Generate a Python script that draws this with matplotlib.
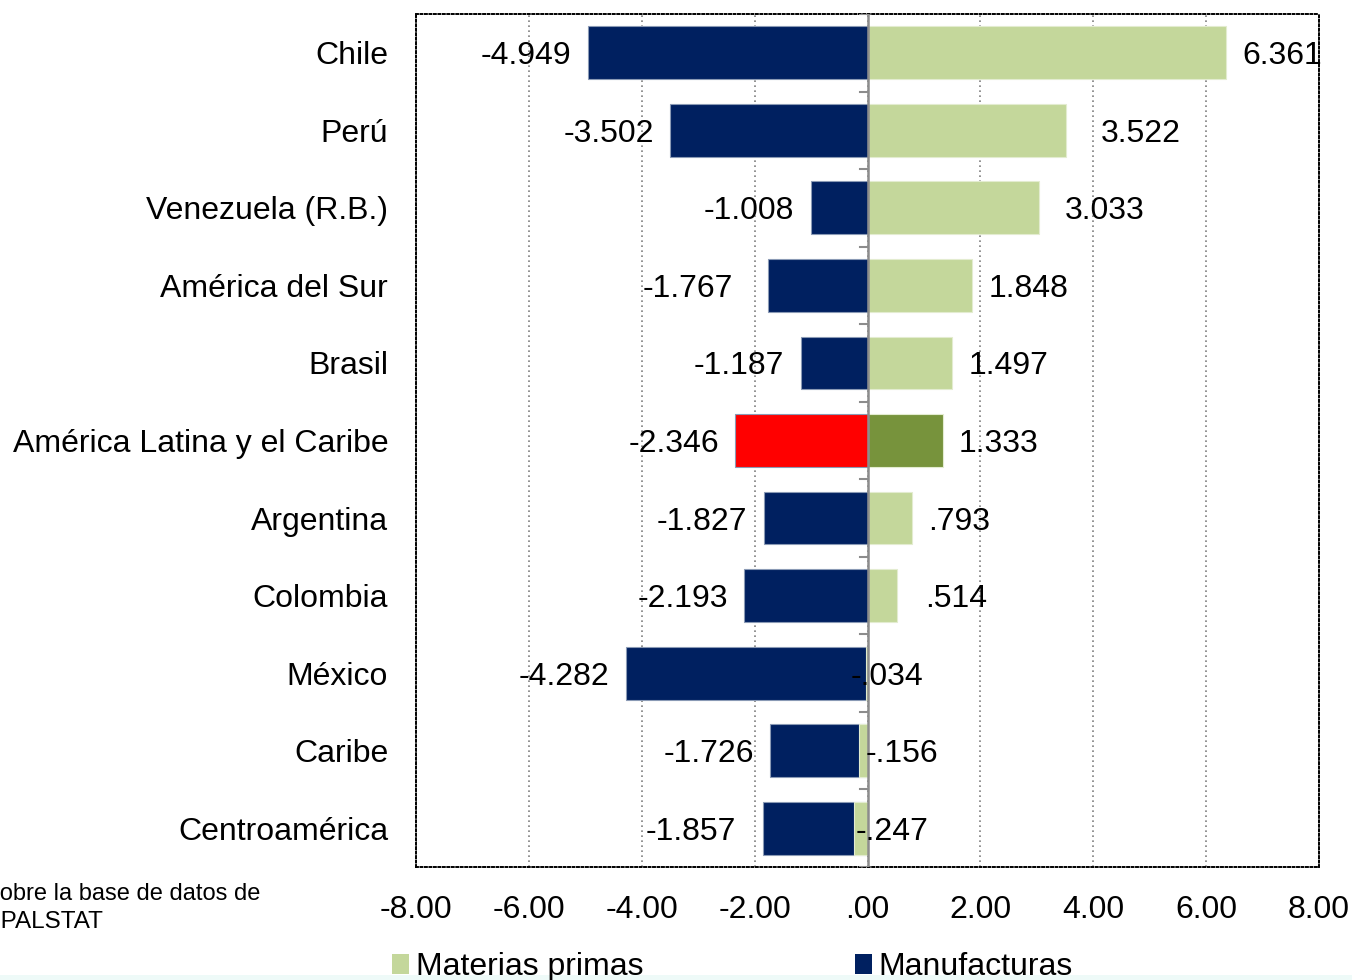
import matplotlib.pyplot as plt
from matplotlib.patches import Patch, Rectangle

plt.rcParams['font.family'] = ['Liberation Sans', 'DejaVu Sans']

categories = ['Chile', 'Perú', 'Venezuela (R.B.)', 'América del Sur', 'Brasil',
              'América Latina y el Caribe', 'Argentina', 'Colombia', 'México',
              'Caribe', 'Centroamérica']
materias = [6.361, 3.522, 3.033, 1.848, 1.497, 1.333, 0.793, 0.514, -0.034, -0.156, -0.247]
manufacturas = [-4.949, -3.502, -1.008, -1.767, -1.187, -2.346, -1.827, -2.193, -4.282, -1.726, -1.857]
tick_values = [-8, -6, -4, -2, 0, 2, 4, 6, 8]

# label nudges in pixels (as placed in the original)
manuf_gap = [17, 16, 17, 35, 17, 16, 17, 16, 16, 16, 27]
mat_gap = [16, 35, 26, 17, 17, 16, 16, 29, -15, 7, 2]

navy = '#002060'
light_green = '#C4D79B'
hi = 5  # América Latina y el Caribe is highlighted


def fmt(v, nd=3):
    s = f"{v:.{nd}f}"
    return s.replace('0.', '.', 1) if s.lstrip('-').startswith('0.') else s


fig = plt.figure(figsize=(13.52, 9.8), dpi=100)
ax = fig.add_axes([416 / 1352, 1 - 867 / 980, 903 / 1352, 853 / 980])

y = list(range(len(categories)))
man_col = [navy] * len(categories)
mat_col = [light_green] * len(categories)
man_col[hi] = '#FF0000'
mat_col[hi] = '#77933C'

ax.barh(y, manufacturas, height=0.68, color=man_col, edgecolor='#8a9ab5', linewidth=0.8, zorder=3)
ax.barh(y, materias, height=0.68, color=mat_col, edgecolor='#e3ecd0', linewidth=0.8, zorder=4)

for i in y:
    v = manufacturas[i]
    ax.annotate(fmt(v), (v, i), xytext=(-manuf_gap[i], 0), textcoords='offset pixels',
                ha='right', va='center_baseline', fontsize=23, zorder=6)
    m = materias[i]
    ax.annotate(fmt(m), (m, i), xytext=(mat_gap[i], 0), textcoords='offset pixels',
                ha='left', va='center_baseline', fontsize=23, zorder=6)

ax.set_xlim(-8, 8)
ax.set_ylim(len(categories) - 0.5, -0.5)
ax.set_xticks(tick_values)
ax.set_xticklabels([fmt(t, 2) for t in tick_values], fontsize=23)
ax.set_yticks(y)
ax.set_yticklabels(categories, fontsize=23)
ax.tick_params(axis='both', length=0)
ax.tick_params(axis='x', pad=20)
ax.tick_params(axis='y', pad=20)

ax.grid(axis='x', color='#7f7f7f', linestyle=(0, (1, 2)), linewidth=1.2, zorder=0)
ax.axvline(0, color='#8c8c8c', linewidth=1.8, zorder=5)
for k in range(len(categories) + 1):
    ax.plot([-0.14, 0], [k - 0.5, k - 0.5], color='#8c8c8c', linewidth=1.5, zorder=5)

for s in ax.spines.values():
    s.set_linestyle((0, (1, 1.3)))
    s.set_linewidth(1.4)
    s.set_color('black')

# source note (cut off at the left edge in the original)
fig.text(-12 / 1352, 1 - 894 / 980, 'sobre la base de datos de', fontsize=17, va='center', ha='left')
fig.text(-32 / 1352, 1 - 922 / 980, 'CEPALSTAT', fontsize=17.5, va='center', ha='left')

handles = [Patch(facecolor=light_green, edgecolor='none', label='Materias primas'),
           Patch(facecolor=navy, edgecolor='none', label='Manufacturas')]
fig.legend(handles=handles, loc='lower left', bbox_to_anchor=(379 / 1352, -15 / 980), ncol=2,
           frameon=False, fontsize=23, handlelength=0.55, handleheight=0.55, handletextpad=0.2,
           columnspacing=6.62, borderaxespad=0)

fig.patches.append(Rectangle((0, 0), 1, 5 / 980, transform=fig.transFigure,
                             facecolor='#eefaf8', edgecolor='none', zorder=-1))

fig.savefig('out.png', dpi=100)
